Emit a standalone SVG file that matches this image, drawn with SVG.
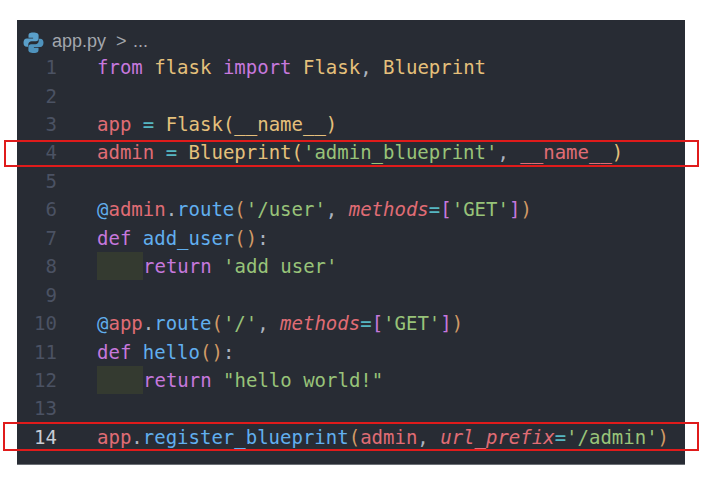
<svg xmlns="http://www.w3.org/2000/svg" width="714" height="483" viewBox="0 0 714 483">
<style>
.code{font-family:"DejaVu Sans Mono","Liberation Mono",monospace;font-size:19px;fill:#abb2bf}
.ln{font-family:"DejaVu Sans Mono","Liberation Mono",monospace;font-size:19px;fill:#4b5263;text-anchor:end}
.cur{fill:#c8ccd4}
.kw{fill:#c678dd}.ty{fill:#e5c07b}.va{fill:#e06c75}.op{fill:#56b6c2}.fn{fill:#61afef}.st{fill:#98c379}.pa{fill:#d19a66}.it{font-style:italic;fill:#e06c75}
.hl{fill:none;stroke:#e01b1b;stroke-width:2}
.guide{fill:#343a30}
.crumb{font-family:"Liberation Sans","Noto Sans",sans-serif;font-size:18px;fill:#a3a7ad}
</style>
<rect width="714" height="483" fill="#ffffff"/>
<g id="editor">
<rect x="17" y="20" width="668" height="445" fill="#282c34"/>
<line x1="17" y1="464.5" x2="685" y2="464.5" stroke="#6b6f75" stroke-width="1"/>
</g>
<g id="breadcrumb">
<path d="M33 32.5c-3.5 0-4.5 1.3-4.5 3v2.2h4.6v0.8h-6.3c-2 0-3.3 1.6-3.3 4.2s1.3 4.1 3.2 4.1h1.6v-2.4c0-1.9 1.5-3.2 3.3-3.2h4.4c1.5 0 2.6-1.2 2.6-2.7v-3.2c0-1.6-1.4-2.8-5.6-2.8z" fill="#5a9fc9"/>
<path d="M34 53c3.5 0 4.5-1.3 4.5-3v-2.2h-4.6v-0.8h6.3c2 0 3.3-1.6 3.3-4.2s-1.3-4.1-3.2-4.1h-1.6v2.4c0 1.9-1.5 3.2-3.3 3.2h-4.4c-1.5 0-2.6 1.2-2.6 2.7v3.2c0 1.6 1.4 2.8 5.6 2.8z" fill="#4f93bd"/>
<text class="crumb" x="52" y="47">app.py</text>
<text class="crumb" x="116" y="47">&gt;</text>
<text class="crumb" x="133" y="47">...</text>
</g>
<g id="gutter">
<text class="ln" x="57" y="74">1</text>
<text class="ln" x="57" y="102.5">2</text>
<text class="ln" x="57" y="131">3</text>
<text class="ln" x="57" y="159.4">4</text>
<text class="ln" x="57" y="187.8">5</text>
<text class="ln" x="57" y="216.2">6</text>
<text class="ln" x="57" y="244.7">7</text>
<text class="ln" x="57" y="273.1">8</text>
<text class="ln" x="57" y="301.6">9</text>
<text class="ln" x="57" y="330">10</text>
<text class="ln" x="57" y="358.5">11</text>
<text class="ln" x="57" y="387">12</text>
<text class="ln" x="57" y="415.4">13</text>
<text class="ln cur" x="57" y="443.8">14</text>
</g>
<g id="indent-guides">
<rect class="guide" x="97" y="252" width="46" height="28"/>
<rect class="guide" x="97" y="366" width="46" height="28"/>
</g>
<g id="code" xml:space="preserve">
<text class="code" x="97" y="74"><tspan class="kw">from</tspan> <tspan class="ty">flask</tspan> <tspan class="kw">import</tspan> <tspan class="ty">Flask</tspan>, <tspan class="ty">Blueprint</tspan></text>
<text class="code" x="97" y="131"><tspan class="va">app</tspan> <tspan class="op">=</tspan> <tspan class="ty">Flask(__name__)</tspan></text>
<text class="code" x="97" y="159.4"><tspan class="va">admin</tspan> <tspan class="op">=</tspan> <tspan class="ty">Blueprint(</tspan><tspan class="st">'admin_blueprint'</tspan>, <tspan class="va">__name__</tspan><tspan class="ty">)</tspan></text>
<text class="code" x="97" y="216.2"><tspan class="fn">@</tspan><tspan class="va">admin</tspan>.<tspan class="fn">route</tspan><tspan class="pa">(</tspan><tspan class="st">'/user'</tspan>, <tspan class="it">methods</tspan><tspan class="op">=</tspan><tspan class="kw">[</tspan><tspan class="st">'GET'</tspan><tspan class="kw">]</tspan><tspan class="pa">)</tspan></text>
<text class="code" x="97" y="244.7"><tspan class="kw">def</tspan> <tspan class="fn">add_user</tspan><tspan class="pa">()</tspan>:</text>
<text class="code" x="143" y="273.1"><tspan class="kw">return</tspan> <tspan class="st">'add user'</tspan></text>
<text class="code" x="97" y="330"><tspan class="fn">@</tspan><tspan class="va">app</tspan>.<tspan class="fn">route</tspan><tspan class="pa">(</tspan><tspan class="st">'/'</tspan>, <tspan class="it">methods</tspan><tspan class="op">=</tspan><tspan class="kw">[</tspan><tspan class="st">'GET'</tspan><tspan class="kw">]</tspan><tspan class="pa">)</tspan></text>
<text class="code" x="97" y="358.5"><tspan class="kw">def</tspan> <tspan class="fn">hello</tspan><tspan class="pa">()</tspan>:</text>
<text class="code" x="143" y="387"><tspan class="kw">return</tspan> <tspan class="st">"hello world!"</tspan></text>
<text class="code" x="97" y="443.8"><tspan class="va">app</tspan>.<tspan class="fn">register_blueprint</tspan><tspan class="pa">(</tspan><tspan class="va">admin</tspan>, <tspan class="it">url_prefix</tspan><tspan class="op">=</tspan><tspan class="st">'/admin'</tspan><tspan class="pa">)</tspan></text>
</g>
<g id="highlights">
<rect class="hl" x="5" y="141" width="693" height="25"/>
<rect class="hl" x="4" y="423" width="694" height="27"/>
</g>
</svg>
